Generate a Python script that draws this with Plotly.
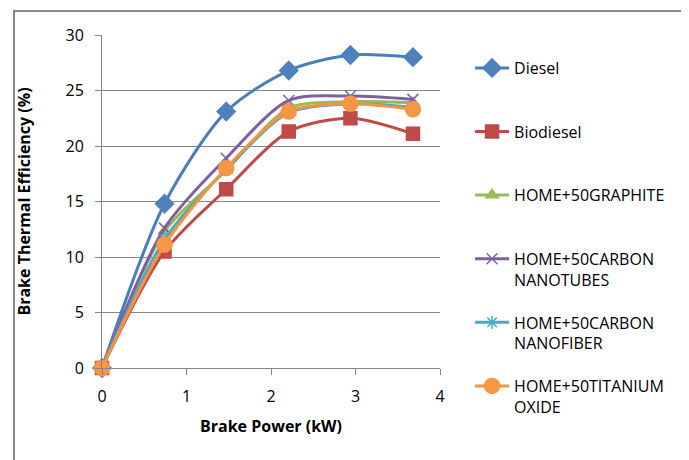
import plotly.graph_objects as go

brake_power = [0, 0.74, 1.47, 2.21, 2.94, 3.68]
diesel = [0, 14.8, 23.1, 26.8, 28.2, 28.0]
biodiesel = [0, 10.5, 16.1, 21.3, 22.5, 21.1]
graphite = [0, 12.3, 17.8, 23.4, 24.0, 23.9]
nanotubes = [0, 12.6, 18.9, 24.1, 24.5, 24.2]
nanofiber = [0, 11.6, 17.9, 23.0, 23.8, 23.5]
titanium = [0, 11.1, 18.0, 23.1, 23.8, 23.3]

series = [
    ("Diesel<br>&nbsp;", diesel, "#4A7EBB", "#4F81BD", "diamond", 14),
    ("Biodiesel<br>&nbsp;", biodiesel, "#BE4B48", "#BE4B48", "square", 13),
    ("HOME+50GRAPHITE<br>&nbsp;", graphite, "#98B954", "#9BBB59", "triangle-up", 11),
    ("HOME+50CARBON<br>NANOTUBES", nanotubes, "#7D60A0", "#8064A2", "x-thin-open", 11),
    ("HOME+50CARBON<br>NANOFIBER", nanofiber, "#46AAC5", "#4BACC6", "asterisk-open", 11),
    ("HOME+50TITANIUM<br>OXIDE", titanium, "#F69240", "#F79646", "circle", 15),
]

fig = go.Figure()
for i, (name, vals, lc, mc, sym, sz) in enumerate(series):
    fig.add_trace(go.Scatter(
        x=brake_power, y=vals, name=name, mode="lines+markers",
        line=dict(color=lc, width=3, shape="spline", smoothing=0.8),
        marker=dict(symbol=sym, size=sz, color=mc, line=dict(color=mc, width=1.5)),
        legendgroup=str(i), cliponaxis=False,
    ))

font = "'Open Sans', 'Liberation Sans', sans-serif"
fig.update_layout(
    width=681, height=452,
    margin=dict(l=94, r=249, t=27, b=92),
    paper_bgcolor="white", plot_bgcolor="white",
    font=dict(family=font, size=16, color="#000000"),
    showlegend=True,
    legend=dict(x=1.089, y=0.952, xanchor="left", yanchor="top",
                font=dict(family=font, size=16, color="#000000"),
                tracegroupgap=19, valign="top", itemwidth=34,
                maxheight=440,
                bgcolor="rgba(0,0,0,0)"),
    xaxis=dict(range=[0, 4], tickvals=[0, 1, 2, 3, 4], showgrid=False,
               showline=True, linecolor="#868686", linewidth=1,
               ticks="outside", ticklen=6, tickcolor="#868686",
               ticklabelstandoff=8,
               zeroline=False,
               title=dict(text="<b>Brake Power (kW)</b>", font=dict(size=16), standoff=14)),
    yaxis=dict(range=[0, 30], tickvals=[0, 5, 10, 15, 20, 25, 30], showgrid=True,
               gridcolor="#868686", gridwidth=1,
               showline=True, linecolor="#868686", linewidth=1,
               ticks="outside", ticklen=6, tickcolor="#868686",
               ticklabelstandoff=8,
               zeroline=False,
               title=dict(text="<b>Brake Thermal Efficiency (%)</b>", font=dict(size=16), standoff=30)),
)
fig.add_shape(type="rect", xref="paper", yref="paper",
              x0=(6 - 94) / 338, x1=(679 - 94) / 338, y0=-0.5, y1=1 + 24 / 333,
              line=dict(color="#868686", width=2), fillcolor="rgba(0,0,0,0)", layer="below")
fig.write_html("out.html")
